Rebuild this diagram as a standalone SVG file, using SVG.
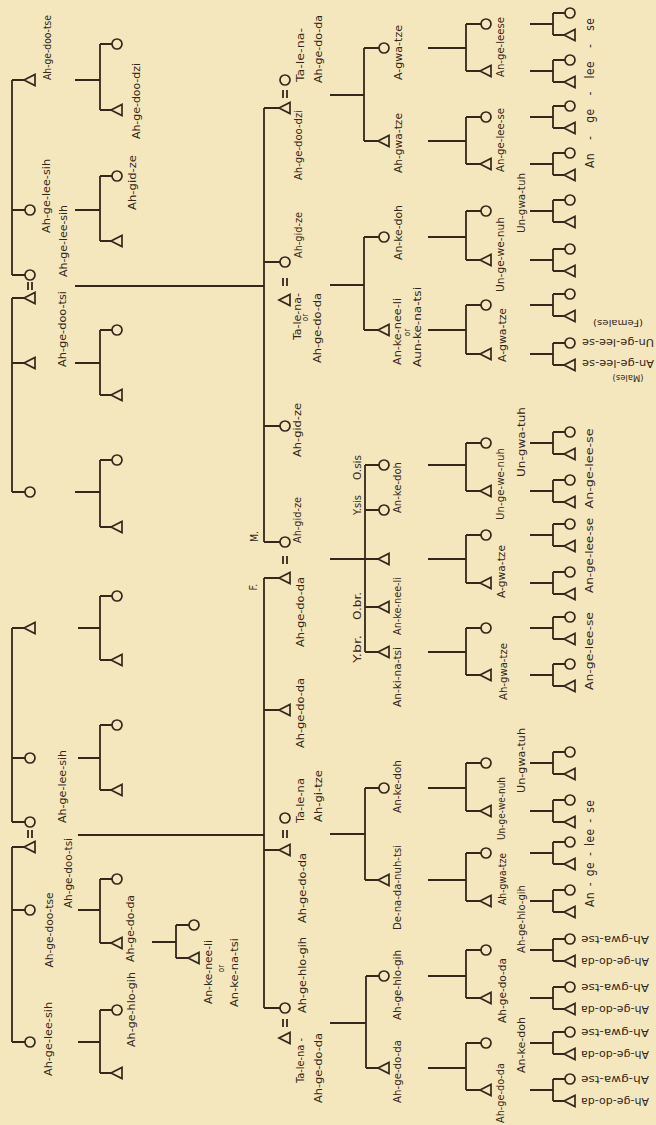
<svg xmlns="http://www.w3.org/2000/svg" width="656" height="1125" viewBox="0 0 656 1125">
<style>
.s{fill:none;stroke:#33281b;stroke-width:1.7}
.c{fill:none;stroke:#33281b;stroke-width:1.8}
text{font-family:"DejaVu Sans Condensed","DejaVu Sans",sans-serif;font-stretch:condensed;font-size:10.5px;fill:#33281b;text-anchor:middle}
.sm{font-size:8px}
.lg{font-size:12px}
</style>
<defs>
<path id="m" class="s" d="M-6,0 L5,-5.5 L5,5.5 Z"/>
<circle id="f" class="s" r="5"/>
</defs>
<rect width="656" height="1125" fill="#f5e7bd"/>
<g id="connectors">
<path class="c" d="M12,80V275M12,80H24M12,210H25M12,275H25M12,298V492M12,298H24M12,363H24M12,492H25M12,628V822M12,628H24M12,758H25M12,822H25M12,847V1042M12,847H24M12,910H25M12,1042H25M75,286H264M78,835H264"/>
<path class="c" d="M75,80H100M100,44V110M100,44H112M100,110H111M75,210H100M100,176V241M100,176H112M100,241H111M75,363H100M100,330V395M100,330H112M100,395H111M75,492H100M100,460V527M100,460H112M100,527H111M78,628H100M100,596V660M100,596H112M100,660H111M78,758H100M100,725V790M100,725H112M100,790H111M78,910H100M100,879V943M100,879H112M100,943H111M78,1042H100M100,1010V1073M100,1010H112M100,1073H111M152,942H176M176,925V958M176,925H189M176,958H188"/>
<path class="c" d="M264,108V542M264,108H279M264,262H280M264,426H280M264,542H280M264,578V1008M264,578H279M264,710H279M264,850H279M264,1008H280"/>
<path class="c" d="M330,95H364M364,48V141M364,48H379M364,141H378M330,285H364M364,237V330M364,237H379M364,330H378M330,559H378M365,465V652M365,465H379M365,510H379M365,607H378M365,652H378M330,834H365M365,788V880M365,788H379M365,880H378M330,1023H366M366,976V1068M366,976H379M366,1068H378"/>
<path class="c" d="M428,48H466M466,24V71M466,24H481M466,71H480M428,141H466M466,117V164M466,117H481M466,164H480M428,237H466M466,211V260M466,211H481M466,260H480M428,330H466M466,305V354M466,305H481M466,354H480M428,465H466M466,443V491M466,443H481M466,491H480M428,559H466M466,535V583M466,535H481M466,583H480M428,652H466M466,628V675M466,628H481M466,675H480M428,788H466M466,763V811M466,763H481M466,811H480M428,880H466M466,853V901M466,853H481M466,901H480M428,976H466M466,950V998M466,950H481M466,998H480M428,1068H466M466,1043V1090M466,1043H481M466,1090H480"/>
<path class="c" d="M530,24H553M553,13V35M553,13H565M553,35H564M530,71H553M553,60V82M553,60H565M553,82H564M530,117H553M553,106V128M553,106H565M553,128H564M530,164H553M553,153V175M553,153H565M553,175H564M530,211H553M553,200V222M553,200H565M553,222H564M530,260H553M553,249V271M553,249H565M553,271H564M530,305H553M553,294V316M553,294H565M553,316H564M530,354H553M553,343V365M553,343H565M553,365H564M530,443H553M553,432V454M553,432H565M553,454H564M530,491H553M553,480V502M553,480H565M553,502H564M530,535H553M553,524V546M553,524H565M553,546H564M530,583H553M553,572V594M553,572H565M553,594H564M530,628H553M553,617V639M553,617H565M553,639H564M530,675H553M553,664V686M553,664H565M553,686H564M530,763H553M553,752V774M553,752H565M553,774H564M530,811H553M553,800V822M553,800H565M553,822H564M530,853H553M553,842V864M553,842H565M553,864H564M530,901H553M553,890V912M553,890H565M553,912H564M530,950H553M553,939V961M553,939H565M553,961H564M530,998H553M553,987V1009M553,987H565M553,1009H564M530,1043H553M553,1032V1054M553,1032H565M553,1054H564M530,1090H553M553,1079V1101M553,1079H565M553,1101H564"/>
<path class="c" stroke-width="1.3" d="M28,282V290M32,282V290M28,830V838M32,830V838M283,90V98M287,90V98M283,278V286M287,278V286M283,556V564M287,556V564M283,830V838M287,830V838M283,1019V1027M287,1019V1027"/>
</g>
<g id="colA">
<g id="a_m80"><use href="#m" x="30" y="80"/><text transform="translate(50.5,47.5) rotate(-90)" textLength="65" lengthAdjust="spacingAndGlyphs">Ah-ge-doo-tse</text></g>
<g id="a_f210"><use href="#f" x="30" y="210"/><text transform="translate(49.5,196) rotate(-90)" textLength="74" lengthAdjust="spacingAndGlyphs">Ah-ge-lee-sih</text></g>
<g id="a_f275"><use href="#f" x="30" y="275"/><text transform="translate(66.5,241) rotate(-90)" textLength="72" lengthAdjust="spacingAndGlyphs">Ah-ge-lee-sih</text></g>
<g id="a_m298"><use href="#m" x="30" y="298"/><text transform="translate(65.5,329) rotate(-90)" textLength="76" lengthAdjust="spacingAndGlyphs">Ah-ge-doo-tsi</text></g>
<g id="a_m363"><use href="#m" x="30" y="363"/></g>
<g id="a_f492"><use href="#f" x="30" y="492"/></g>
<g id="a_m628"><use href="#m" x="30" y="628"/></g>
<g id="a_f758"><use href="#f" x="30" y="758"/></g>
<g id="a_f822"><use href="#f" x="30" y="822"/><text transform="translate(65.5,786.5) rotate(-90)" textLength="73" lengthAdjust="spacingAndGlyphs">Ah-ge-lee-sih</text></g>
<g id="a_m847"><use href="#m" x="30" y="847"/><text transform="translate(71.5,873) rotate(-90)" textLength="70" lengthAdjust="spacingAndGlyphs">Ah-ge-doo-tsi</text></g>
<g id="a_f910"><use href="#f" x="30" y="910"/><text transform="translate(52.5,930) rotate(-90)" textLength="75" lengthAdjust="spacingAndGlyphs">Ah-ge-doo-tse</text></g>
<g id="a_f1042"><use href="#f" x="30" y="1042"/><text transform="translate(51.5,1039) rotate(-90)" textLength="74" lengthAdjust="spacingAndGlyphs">Ah-ge-lee-sih</text></g>
</g>
<g id="colB">
<g id="b_f44"><use href="#f" x="117" y="44"/></g>
<g id="b_m110"><use href="#m" x="117" y="110"/><text transform="translate(139.5,101) rotate(-90)" textLength="76" lengthAdjust="spacingAndGlyphs">Ah-ge-doo-dzi</text></g>
<g id="b_f176"><use href="#f" x="117" y="176"/><text transform="translate(135.5,182.5) rotate(-90)" textLength="55" lengthAdjust="spacingAndGlyphs">Ah-gid-ze</text></g>
<g id="b_m241"><use href="#m" x="117" y="241"/></g>
<g id="b_f330"><use href="#f" x="117" y="330"/></g>
<g id="b_m395"><use href="#m" x="117" y="395"/></g>
<g id="b_f460"><use href="#f" x="117" y="460"/></g>
<g id="b_m527"><use href="#m" x="117" y="527"/></g>
<g id="b_f596"><use href="#f" x="117" y="596"/></g>
<g id="b_m660"><use href="#m" x="117" y="660"/></g>
<g id="b_f725"><use href="#f" x="117" y="725"/></g>
<g id="b_m790"><use href="#m" x="117" y="790"/></g>
<g id="b_f879"><use href="#f" x="117" y="879"/></g>
<g id="b_m943"><use href="#m" x="117" y="943"/><text transform="translate(133.5,928.5) rotate(-90)" textLength="67" lengthAdjust="spacingAndGlyphs">Ah-ge-do-da</text></g>
<g id="b_f1010"><use href="#f" x="117" y="1010"/><text transform="translate(134.5,1009.5) rotate(-90)" textLength="75" lengthAdjust="spacingAndGlyphs">Ah-ge-hlo-gih</text></g>
<g id="b_m1073"><use href="#m" x="117" y="1073"/></g>
<g id="b2_f925"><use href="#f" x="194" y="925"/></g>
<g id="b2_m958"><use href="#m" x="194" y="958"/><text transform="translate(211.5,972) rotate(-90)" textLength="64" lengthAdjust="spacingAndGlyphs">An-ke-nee-li</text><text class="sm" transform="translate(223.5,968.5) rotate(-90)">or</text><text transform="translate(237.5,972.5) rotate(-90)" textLength="69" lengthAdjust="spacingAndGlyphs">An-ke-na-tsi</text></g>
</g>
<g id="colC">
<g id="c_f80"><use href="#f" x="285" y="80"/><text transform="translate(303.5,55) rotate(-90)" textLength="54" lengthAdjust="spacingAndGlyphs">Ta-le-na-</text><text transform="translate(321.5,49) rotate(-90)" textLength="68" lengthAdjust="spacingAndGlyphs">Ah-ge-do-da</text></g>
<g id="c_m108"><use href="#m" x="285" y="108"/><text transform="translate(301.5,145) rotate(-90)" textLength="70" lengthAdjust="spacingAndGlyphs">Ah-ge-doo-dzi</text></g>
<g id="c_f262"><use href="#f" x="285" y="262"/><text transform="translate(301.5,235) rotate(-90)" textLength="46" lengthAdjust="spacingAndGlyphs">Ah-gid-ze</text></g>
<g id="c_m300"><use href="#m" x="285" y="300"/><text transform="translate(300.5,316.5) rotate(-90)" textLength="47" lengthAdjust="spacingAndGlyphs">Ta-le-na-</text><text class="sm" transform="translate(308,317.5) rotate(-90)">or</text><text transform="translate(320.5,328) rotate(-90)" textLength="70" lengthAdjust="spacingAndGlyphs">Ah-ge-do-da</text></g>
<g id="c_f426"><use href="#f" x="285" y="426"/><text transform="translate(300.5,430) rotate(-90)" textLength="54" lengthAdjust="spacingAndGlyphs">Ah-gid-ze</text></g>
<g id="c_f542_M"><use href="#f" x="285" y="542"/><text transform="translate(257.5,536.5) rotate(-90)">M.</text><text transform="translate(300.5,520) rotate(-90)" textLength="46" lengthAdjust="spacingAndGlyphs">Ah-gid-ze</text></g>
<g id="c_m578_F"><use href="#m" x="285" y="578"/><text transform="translate(256.5,587) rotate(-90)">F.</text><text transform="translate(303.5,612) rotate(-90)" textLength="70" lengthAdjust="spacingAndGlyphs">Ah-ge-do-da</text></g>
<g id="c_m710"><use href="#m" x="285" y="710"/><text transform="translate(303.5,713) rotate(-90)" textLength="70" lengthAdjust="spacingAndGlyphs">Ah-ge-do-da</text></g>
<g id="c_f818"><use href="#f" x="285" y="818"/><text transform="translate(303.5,800.5) rotate(-90)" textLength="45" lengthAdjust="spacingAndGlyphs">Ta-le-na</text><text transform="translate(321.5,796) rotate(-90)" textLength="52" lengthAdjust="spacingAndGlyphs">Ah-gi-tze</text></g>
<g id="c_m850"><use href="#m" x="285" y="850"/><text transform="translate(305.5,888) rotate(-90)" textLength="70" lengthAdjust="spacingAndGlyphs">Ah-ge-do-da</text></g>
<g id="c_f1008"><use href="#f" x="285" y="1008"/><text transform="translate(305.5,975) rotate(-90)" textLength="76" lengthAdjust="spacingAndGlyphs">Ah-ge-hlo-gih</text></g>
<g id="c_m1038"><use href="#m" x="285" y="1038"/><text transform="translate(303.5,1060.5) rotate(-90)" textLength="45" lengthAdjust="spacingAndGlyphs">Ta-le-na -</text><text transform="translate(321.5,1068) rotate(-90)" textLength="70" lengthAdjust="spacingAndGlyphs">Ah-ge-do-da</text></g>
</g>
<g id="colD">
<g id="d_f48"><use href="#f" x="384" y="48"/><text transform="translate(401.5,52.5) rotate(-90)" textLength="55" lengthAdjust="spacingAndGlyphs">A-gwa-tze</text></g>
<g id="d_m141"><use href="#m" x="384" y="141"/><text transform="translate(401.5,143) rotate(-90)" textLength="60" lengthAdjust="spacingAndGlyphs">Ah-gwa-tze</text></g>
<g id="d_f237"><use href="#f" x="384" y="237"/><text transform="translate(401.5,232.5) rotate(-90)" textLength="55" lengthAdjust="spacingAndGlyphs">An-ke-doh</text></g>
<g id="d_m330"><use href="#m" x="384" y="330"/><text transform="translate(400.5,331.5) rotate(-90)" textLength="67" lengthAdjust="spacingAndGlyphs">An-ke-nee-li</text><text class="sm" transform="translate(410,332.5) rotate(-90)">or</text><text transform="translate(420.5,327) rotate(-90)" textLength="80" lengthAdjust="spacingAndGlyphs">Aun-ke-na-tsi</text></g>
<g id="d_f465"><use href="#f" x="384" y="465"/><text transform="translate(360.5,467.5) rotate(-90)" textLength="25" lengthAdjust="spacingAndGlyphs">O.sis</text></g>
<g id="d_f510"><use href="#f" x="384" y="510"/><text transform="translate(360.5,505) rotate(-90)" textLength="20" lengthAdjust="spacingAndGlyphs">Y.sis</text><text transform="translate(400.5,487.5) rotate(-90)" textLength="51" lengthAdjust="spacingAndGlyphs">An-ke-doh</text></g>
<g id="d_m559_ego"><use href="#m" x="384" y="559"/></g>
<g id="d_m607"><use href="#m" x="384" y="607"/><text transform="translate(360.5,606) rotate(-90)" textLength="28" lengthAdjust="spacingAndGlyphs">O.br.</text><text transform="translate(400.5,606) rotate(-90)" textLength="58" lengthAdjust="spacingAndGlyphs">An-ke-nee-li</text></g>
<g id="d_m652"><use href="#m" x="384" y="652"/><text transform="translate(360.5,649) rotate(-90)" textLength="28" lengthAdjust="spacingAndGlyphs">Y.br.</text><text transform="translate(400.5,677) rotate(-90)" textLength="60" lengthAdjust="spacingAndGlyphs">An-ki-na-tsi</text></g>
<g id="d_f788"><use href="#f" x="384" y="788"/><text transform="translate(400.5,786.5) rotate(-90)" textLength="53" lengthAdjust="spacingAndGlyphs">An-ke-doh</text></g>
<g id="d_m880"><use href="#m" x="384" y="880"/><text transform="translate(400.5,887.5) rotate(-90)" textLength="85" lengthAdjust="spacingAndGlyphs">De-na-da-nuh-tsi</text></g>
<g id="d_f976"><use href="#f" x="384" y="976"/><text transform="translate(400.5,985) rotate(-90)" textLength="70" lengthAdjust="spacingAndGlyphs">Ah-ge-hlo-gih</text></g>
<g id="d_m1068"><use href="#m" x="384" y="1068"/><text transform="translate(400.5,1071.5) rotate(-90)" textLength="63" lengthAdjust="spacingAndGlyphs">Ah-ge-do-da</text></g>
</g>
<g id="colE">
<g id="e_f24"><use href="#f" x="486" y="24"/></g>
<g id="e_m71"><use href="#m" x="486" y="71"/><text transform="translate(503.5,47) rotate(-90)" textLength="60" lengthAdjust="spacingAndGlyphs">An-ge-leese</text></g>
<g id="e_f117"><use href="#f" x="486" y="117"/></g>
<g id="e_m164"><use href="#m" x="486" y="164"/><text transform="translate(503.5,140) rotate(-90)" textLength="64" lengthAdjust="spacingAndGlyphs">An-ge-lee-se</text></g>
<g id="e_f211"><use href="#f" x="486" y="211"/></g>
<g id="e_m260"><use href="#m" x="486" y="260"/><text transform="translate(503.5,254.5) rotate(-90)" textLength="75" lengthAdjust="spacingAndGlyphs">Un-ge-we-nuh</text></g>
<g id="e_f305"><use href="#f" x="486" y="305"/></g>
<g id="e_m354"><use href="#m" x="486" y="354"/><text transform="translate(505.5,335) rotate(-90)" textLength="54" lengthAdjust="spacingAndGlyphs">A-gwa-tze</text></g>
<g id="e_f443"><use href="#f" x="486" y="443"/></g>
<g id="e_m491"><use href="#m" x="486" y="491"/><text transform="translate(503.5,484) rotate(-90)" textLength="72" lengthAdjust="spacingAndGlyphs">Un-ge-we-nuh</text></g>
<g id="e_f535"><use href="#f" x="486" y="535"/></g>
<g id="e_m583"><use href="#m" x="486" y="583"/><text transform="translate(504.5,571.5) rotate(-90)" textLength="53" lengthAdjust="spacingAndGlyphs">A-gwa-tze</text></g>
<g id="e_f628"><use href="#f" x="486" y="628"/></g>
<g id="e_m675"><use href="#m" x="486" y="675"/><text transform="translate(506.5,671.5) rotate(-90)" textLength="57" lengthAdjust="spacingAndGlyphs">Ah-gwa-tze</text></g>
<g id="e_f763"><use href="#f" x="486" y="763"/></g>
<g id="e_m811"><use href="#m" x="486" y="811"/><text transform="translate(504.5,808.5) rotate(-90)" textLength="63" lengthAdjust="spacingAndGlyphs">Un-ge-we-nuh</text></g>
<g id="e_f853"><use href="#f" x="486" y="853"/></g>
<g id="e_m901"><use href="#m" x="486" y="901"/><text transform="translate(505.5,879) rotate(-90)" textLength="52" lengthAdjust="spacingAndGlyphs">Ah-gwa-tze</text></g>
<g id="e_f950"><use href="#f" x="486" y="950"/></g>
<g id="e_m998"><use href="#m" x="486" y="998"/><text transform="translate(505.5,990.5) rotate(-90)" textLength="65" lengthAdjust="spacingAndGlyphs">Ah-ge-do-da</text></g>
<g id="e_f1043"><use href="#f" x="486" y="1043"/></g>
<g id="e_m1090"><use href="#m" x="486" y="1090"/><text transform="translate(503.5,1093) rotate(-90)" textLength="60" lengthAdjust="spacingAndGlyphs">Ah-ge-do-da</text></g>
</g>
<g id="colG">
<g id="g_13"><use href="#f" x="570" y="13"/></g><g id="g_35"><use href="#m" x="570" y="35"/></g>
<g id="g_60"><use href="#f" x="570" y="60"/></g><g id="g_82"><use href="#m" x="570" y="82"/></g>
<g id="g_106"><use href="#f" x="570" y="106"/></g><g id="g_128"><use href="#m" x="570" y="128"/></g>
<g id="g_153"><use href="#f" x="570" y="153"/></g><g id="g_175"><use href="#m" x="570" y="175"/></g>
<g id="g_200"><use href="#f" x="570" y="200"/></g><g id="g_222"><use href="#m" x="570" y="222"/></g>
<g id="g_249"><use href="#f" x="570" y="249"/></g><g id="g_271"><use href="#m" x="570" y="271"/></g>
<g id="g_294"><use href="#f" x="570" y="294"/></g><g id="g_316"><use href="#m" x="570" y="316"/></g>
<g id="g_343"><use href="#f" x="570" y="343"/><text class="sm" transform="translate(618,320) rotate(180)" textLength="50" lengthAdjust="spacingAndGlyphs">(Females)</text><text transform="translate(618,339) rotate(180)" textLength="72" lengthAdjust="spacingAndGlyphs">Un-ge-lee-se</text></g>
<g id="g_365"><use href="#m" x="570" y="365"/><text transform="translate(618,360) rotate(180)" textLength="72" lengthAdjust="spacingAndGlyphs">An-ge-lee-se</text><text class="sm" transform="translate(628,375) rotate(180)" textLength="31" lengthAdjust="spacingAndGlyphs">(Males)</text></g>
<g id="g_432"><use href="#f" x="570" y="432"/></g><g id="g_454"><use href="#m" x="570" y="454"/></g>
<g id="g_480"><use href="#f" x="570" y="480"/></g><g id="g_502"><use href="#m" x="570" y="502"/></g>
<g id="g_524"><use href="#f" x="570" y="524"/></g><g id="g_546"><use href="#m" x="570" y="546"/></g>
<g id="g_572"><use href="#f" x="570" y="572"/></g><g id="g_594"><use href="#m" x="570" y="594"/></g>
<g id="g_617"><use href="#f" x="570" y="617"/></g><g id="g_639"><use href="#m" x="570" y="639"/></g>
<g id="g_664"><use href="#f" x="570" y="664"/></g><g id="g_686"><use href="#m" x="570" y="686"/></g>
<g id="g_752"><use href="#f" x="570" y="752"/></g><g id="g_774"><use href="#m" x="570" y="774"/></g>
<g id="g_800"><use href="#f" x="570" y="800"/></g><g id="g_822"><use href="#m" x="570" y="822"/></g>
<g id="g_842"><use href="#f" x="570" y="842"/></g><g id="g_864"><use href="#m" x="570" y="864"/></g>
<g id="g_890"><use href="#f" x="570" y="890"/></g><g id="g_912"><use href="#m" x="570" y="912"/></g>
<g id="g_939"><use href="#f" x="570" y="939"/><text transform="translate(615,936) rotate(180)" textLength="68" lengthAdjust="spacingAndGlyphs">Ah-gwa-tse</text></g>
<g id="g_961"><use href="#m" x="570" y="961"/><text transform="translate(615,958) rotate(180)" textLength="68" lengthAdjust="spacingAndGlyphs">Ah-ge-do-da</text></g>
<g id="g_987"><use href="#f" x="570" y="987"/><text transform="translate(615,984) rotate(180)" textLength="68" lengthAdjust="spacingAndGlyphs">Ah-gwa-tse</text></g>
<g id="g_1009"><use href="#m" x="570" y="1009"/><text transform="translate(615,1006) rotate(180)" textLength="68" lengthAdjust="spacingAndGlyphs">Ah-ge-do-da</text></g>
<g id="g_1032"><use href="#f" x="570" y="1032"/><text transform="translate(615,1029) rotate(180)" textLength="68" lengthAdjust="spacingAndGlyphs">Ah-gwa-tse</text></g>
<g id="g_1054"><use href="#m" x="570" y="1054"/><text transform="translate(615,1051) rotate(180)" textLength="68" lengthAdjust="spacingAndGlyphs">Ah-ge-do-da</text></g>
<g id="g_1079"><use href="#f" x="570" y="1079"/><text transform="translate(615,1076) rotate(180)" textLength="68" lengthAdjust="spacingAndGlyphs">Ah-gwa-tse</text></g>
<g id="g_1101"><use href="#m" x="570" y="1101"/><text transform="translate(615,1098) rotate(180)" textLength="68" lengthAdjust="spacingAndGlyphs">Ah-ge-do-da</text></g>
</g>
<g id="group-labels">
<text transform="translate(524.5,203) rotate(-90)" textLength="60" lengthAdjust="spacingAndGlyphs">Un-gwa-tuh</text>
<text class="lg" transform="translate(593.5,93) rotate(-90)" word-spacing="9" textLength="150" lengthAdjust="spacing">An - ge - lee - se</text>
<text transform="translate(524.5,442) rotate(-90)" textLength="70" lengthAdjust="spacingAndGlyphs">Un-gwa-tuh</text>
<text transform="translate(592.5,468.5) rotate(-90)" textLength="80" lengthAdjust="spacingAndGlyphs">An-ge-lee-se</text>
<text transform="translate(592.5,555.5) rotate(-90)" textLength="75" lengthAdjust="spacingAndGlyphs">An-ge-lee-se</text>
<text transform="translate(592.5,651) rotate(-90)" textLength="78" lengthAdjust="spacingAndGlyphs">An-ge-lee-se</text>
<text transform="translate(524.5,760.5) rotate(-90)" textLength="65" lengthAdjust="spacingAndGlyphs">Un-gwa-tuh</text>
<text class="lg" transform="translate(593.5,853.5) rotate(-90)" word-spacing="2" textLength="107" lengthAdjust="spacing">An - ge - lee - se</text>
<text transform="translate(524.5,919) rotate(-90)" textLength="68" lengthAdjust="spacingAndGlyphs">Ah-ge-hlo-gih</text>
<text transform="translate(524.5,1045) rotate(-90)" textLength="56" lengthAdjust="spacingAndGlyphs">An-ke-doh</text>
</g>
</svg>
